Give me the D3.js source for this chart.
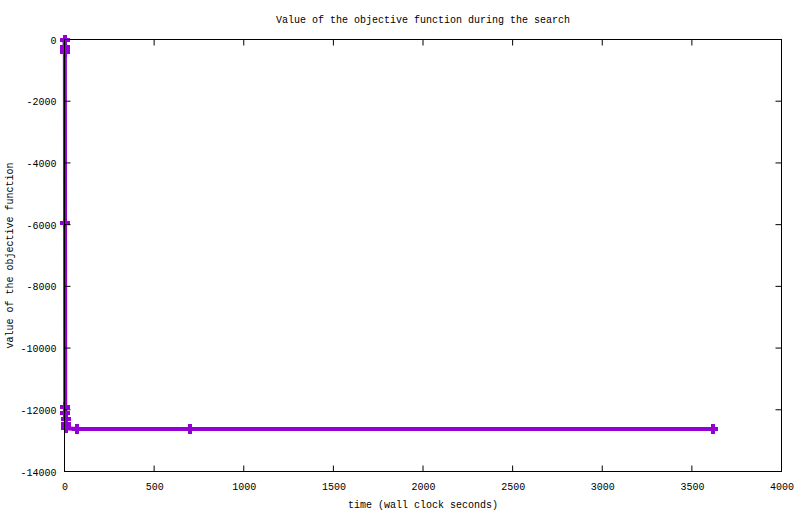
<!DOCTYPE html>
<html><head><meta charset="utf-8">
<script src="https://cdn.jsdelivr.net/npm/d3@7"></script>
<style>body{margin:0;background:#fff}svg{display:block}text{font-family:"Liberation Mono","DejaVu Sans Mono",monospace;font-size:10px;fill:#000}</style>
</head><body>
<svg id="c" width="800" height="514"></svg>
<script>
const timeSeconds = [0, 0.5, 1, 1.5, 2, 3, 4, 5, 6, 8, 10, 70, 700, 3620];
const objectiveValues = [0, -250, -300, -350, -400, -5950, -11900, -12100, -12300, -12450, -12600, -12620, -12620, -12620];
const xTicks = [0, 500, 1000, 1500, 2000, 2500, 3000, 3500, 4000];
const yTicks = [0, -2000, -4000, -6000, -8000, -10000, -12000, -14000];
const titleText = "Value of the objective function during the search";
const xLabel = "time (wall clock seconds)";
const yLabel = "value of the objective function";

const W = 800, H = 514;
const m = {l: 64.5, r: 781.5, t: 39.5, b: 471.5};
const svg = d3.select("#c");
const x = d3.scaleLinear().domain([0, 4000]).range([m.l, m.r]);
const y = d3.scaleLinear().domain([-14000, 0]).range([m.b, m.t]);
const col = "#9400d3";
const data = timeSeconds.map((t, i) => ({t, v: objectiveValues[i]}));

// data line
svg.append("path").datum(data)
  .attr("fill", "none").attr("stroke", col).attr("stroke-width", 4)
  .attr("stroke-linejoin", "miter")
  .attr("d", d3.line().x(d => x(d.t)).y(d => y(d.v)));

// plus markers
const pk = 5;
const g = svg.append("g");
data.forEach(d => {
  const cx = Math.round(x(d.t)), cy = Math.round(y(d.v));
  g.append("path").attr("stroke", col).attr("stroke-width", 4).attr("fill", "none")
    .attr("d", `M${cx - pk},${cy}H${cx + pk}M${cx},${cy - pk}V${cy + pk}`);
});

// axes (inward ticks, mirrored)
const tl = 6;
const ax = svg.append("g");
ax.append("rect").attr("x", m.l).attr("y", m.t).attr("width", m.r - m.l).attr("height", m.b - m.t)
  .attr("fill", "none").attr("stroke", "#000").attr("stroke-width", 1);
const bottom = d3.axisBottom(x).tickValues(xTicks).tickSize(0).tickFormat(d3.format("d"));
const left = d3.axisLeft(y).tickValues(yTicks).tickSize(0).tickFormat(d => d3.format("d")(d).replace("−", "-"));
xTicks.forEach(t => {
  const px = x(t);
  ax.append("line").attr("x1", px).attr("x2", px).attr("y1", m.b).attr("y2", m.b - tl).attr("stroke", "#000");
  ax.append("line").attr("x1", px).attr("x2", px).attr("y1", m.t).attr("y2", m.t + tl).attr("stroke", "#000");
});
yTicks.forEach(t => {
  const py = y(t);
  ax.append("line").attr("x1", m.l).attr("x2", m.l + tl).attr("y1", py).attr("y2", py).attr("stroke", "#000");
  ax.append("line").attr("x1", m.r).attr("x2", m.r - tl).attr("y1", py).attr("y2", py).attr("stroke", "#000");
});
const gb = svg.append("g").attr("transform", `translate(0,${m.b})`).call(bottom);
gb.select(".domain").remove();
gb.selectAll("text").attr("dy", null).attr("y", 18).attr("font-family", null).attr("font-size", null).style("fill", "#000");
const gl = svg.append("g").attr("transform", `translate(${m.l},0)`).call(left);
gl.select(".domain").remove();
gl.selectAll("text").attr("x", -8).attr("dy", "0.35em").attr("font-family", null).attr("font-size", null).style("fill", "#000");

svg.append("text").attr("x", (m.l + m.r) / 2).attr("y", 23).attr("text-anchor", "middle").text(titleText);
svg.append("text").attr("x", (m.l + m.r) / 2).attr("y", 508).attr("text-anchor", "middle").text(xLabel);
svg.append("text").attr("transform", `translate(13,${(m.t + m.b) / 2}) rotate(-90)`).attr("text-anchor", "middle").text(yLabel);
</script>
</body></html>
